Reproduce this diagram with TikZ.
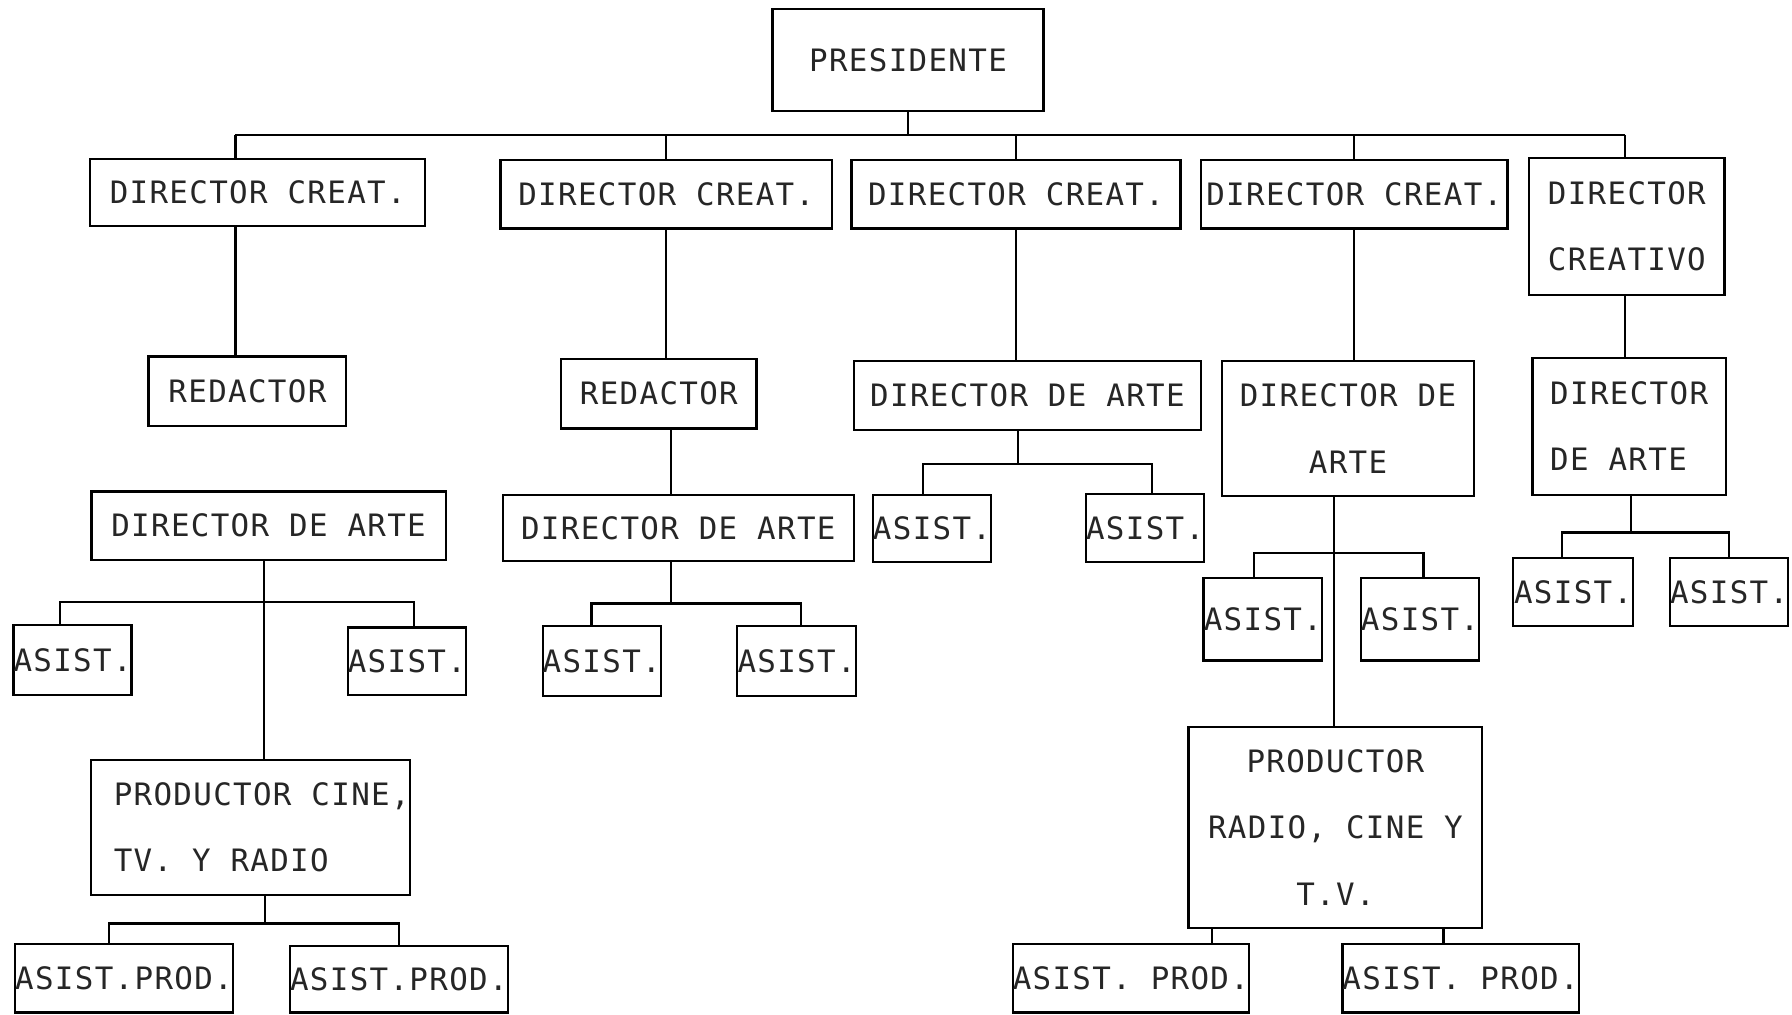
\documentclass[tikz,border=0pt]{standalone}
\usepackage{fontspec}
\newfontfamily\typewriter[LetterSpace=4.3]{DejaVu Sans Mono}
\begin{document}
\begin{tikzpicture}[x=1pt,y=-1pt,
  box/.style={draw, line width=2pt, inner sep=0pt, text=black!85,
    font={\typewriter\fontsize{27}{58}\selectfont}},
  wire/.style={line width=2pt}]
\useasboundingbox[fill=white] (0,0) rectangle (1568,888);

% ---------- top level ----------
\node[box, minimum width=237, minimum height=89] (pres) at (794.5,52.5) {PRESIDENTE};

\node[box, minimum width=293, minimum height=59] (dc1) at (225.5,168.5) {DIRECTOR CREAT.};
\node[box, minimum width=290, minimum height=60] (dc2) at (583,170) {DIRECTOR CREAT.};
\node[box, minimum width=288, minimum height=60] (dc3) at (889,170) {DIRECTOR CREAT.};
\node[box, minimum width=268, minimum height=60] (dc4) at (1185,170) {DIRECTOR CREAT.};
\node[box, minimum width=171, minimum height=120, align=center] (dc5) at (1423.5,198) {DIRECTOR\\CREATIVO};

% ---------- column 1 ----------
\node[box, minimum width=173, minimum height=61] (red1) at (216.5,342.5) {REDACTOR};
\node[box, minimum width=310, minimum height=60] (da1) at (235,460) {DIRECTOR DE ARTE};
\node[box, minimum width=103, minimum height=61] (as1a) at (63.5,577.5) {ASIST.};
\node[box, minimum width=102, minimum height=59] (as1b) at (356,578.5) {ASIST.};
\node[box, minimum width=276, minimum height=118, align=left] (pr1) at (219,724)
  {\hspace*{20pt}PRODUCTOR CINE,\\\hspace*{20pt}TV. Y RADIO};
\node[box, minimum width=189, minimum height=60] (ap1a) at (108.5,856) {ASIST.PROD.};
\node[box, minimum width=188, minimum height=58] (ap1b) at (349,857) {ASIST.PROD.};

% ---------- column 2 ----------
\node[box, minimum width=171, minimum height=61] (red2) at (576.5,344.5) {REDACTOR};
\node[box, minimum width=307, minimum height=58] (da2) at (593.5,462) {DIRECTOR DE ARTE};
\node[box, minimum width=103, minimum height=61] (as2a) at (526.5,578.5) {ASIST.};
\node[box, minimum width=104, minimum height=61] (as2b) at (697,578.5) {ASIST.};

% ---------- column 3 ----------
\node[box, minimum width=304, minimum height=60] (da3) at (899,346) {DIRECTOR DE ARTE};
\node[box, minimum width=103, minimum height=59] (as3a) at (815.5,462.5) {ASIST.};
\node[box, minimum width=102, minimum height=60] (as3b) at (1002,462) {ASIST.};

% ---------- column 4 ----------
\node[box, minimum width=221, minimum height=118, align=center] (da4) at (1179.5,375) {DIRECTOR DE\\ARTE};
\node[box, minimum width=104, minimum height=72] (as4a) at (1105,542) {ASIST.};
\node[box, minimum width=103, minimum height=72] (as4b) at (1242.5,542) {ASIST.};
\node[box, minimum width=257, minimum height=176, align=center] (pr4) at (1168.5,724) {PRODUCTOR\\RADIO, CINE Y\\T.V.};
\node[box, minimum width=203, minimum height=60] (ap4a) at (989.5,856) {ASIST. PROD.};
\node[box, minimum width=206, minimum height=60] (ap4b) at (1278,856) {ASIST. PROD.};

% ---------- column 5 ----------
\node[box, minimum width=169, minimum height=120, align=left] (da5) at (1425.5,373) {DIRECTOR\\DE ARTE};
\node[box, minimum width=105, minimum height=60] (as5a) at (1376.5,518) {ASIST.};
\node[box, minimum width=102, minimum height=60] (as5b) at (1513,518) {ASIST.};

% ---------- junction points ----------
\coordinate (busL) at (206,118);
\coordinate (busR) at (1422,118);
\coordinate (t1) at (231,527);
\coordinate (t1p) at (232,808);
\coordinate (t2) at (587,528);
\coordinate (t3) at (891,406);
\coordinate (t4) at (1167,484);
\coordinate (t5) at (1427,466);

% ---------- connectors ----------
\draw[wire] (pres) -- (pres |- busL);
\draw[wire] (busL) -- (busR);
\draw[wire] (busL) -- (busL |- dc1.north);
\draw[wire] (dc2.north) -- (dc2.north |- busL);
\draw[wire] (dc3.north) -- (dc3.north |- busL);
\draw[wire] (dc4.north) -- (dc4.north |- busL);
\draw[wire] (busR) -- (busR |- dc5.north);

% column 1
\draw[wire] (busL |- dc1.south) -- (busL |- red1.north);
\draw[wire] (t1 |- da1.south) -- (t1 |- pr1.north);
\draw[wire] ([xshift=-11]as1a.north) |- (t1) -| ([xshift=6]as1b.north);
\draw[wire] (t1p |- pr1.south) -- (t1p);
\draw[wire] ([xshift=-13]ap1a.north) |- (t1p) -| (ap1b.north);

% column 2
\draw[wire] (dc2.south) -- (dc2.south |- red2.north);
\draw[wire] (t2 |- red2.south) -- (t2 |- da2.north);
\draw[wire] (t2 |- da2.south) -- (t2);
\draw[wire] ([xshift=-9]as2a.north) |- (t2) -| ([xshift=4]as2b.north);

% column 3
\draw[wire] (dc3.south) -- (dc3.south |- da3.north);
\draw[wire] (t3 |- da3.south) -- (t3);
\draw[wire] ([xshift=-8]as3a.north) |- (t3) -| ([xshift=6]as3b.north);

% column 4
\draw[wire] (dc4.south) -- (dc4.south |- da4.north);
\draw[wire] (t4 |- da4.south) -- (t4 |- pr4.north);
\draw[wire] ([xshift=-8]as4a.north) |- (t4) -| ([xshift=3]as4b.north);
\draw[wire] ([xshift=71]ap4a.north) -- ([xshift=71]ap4a.north |- pr4.south);
\draw[wire] ([xshift=-15]ap4b.north) -- ([xshift=-15]ap4b.north |- pr4.south);

% column 5
\draw[wire] (busR |- dc5.south) -- (busR |- da5.north);
\draw[wire] (t5 |- da5.south) -- (t5);
\draw[wire] ([xshift=-10]as5a.north) |- (t5) -| (as5b.north);
\end{tikzpicture}
\end{document}
